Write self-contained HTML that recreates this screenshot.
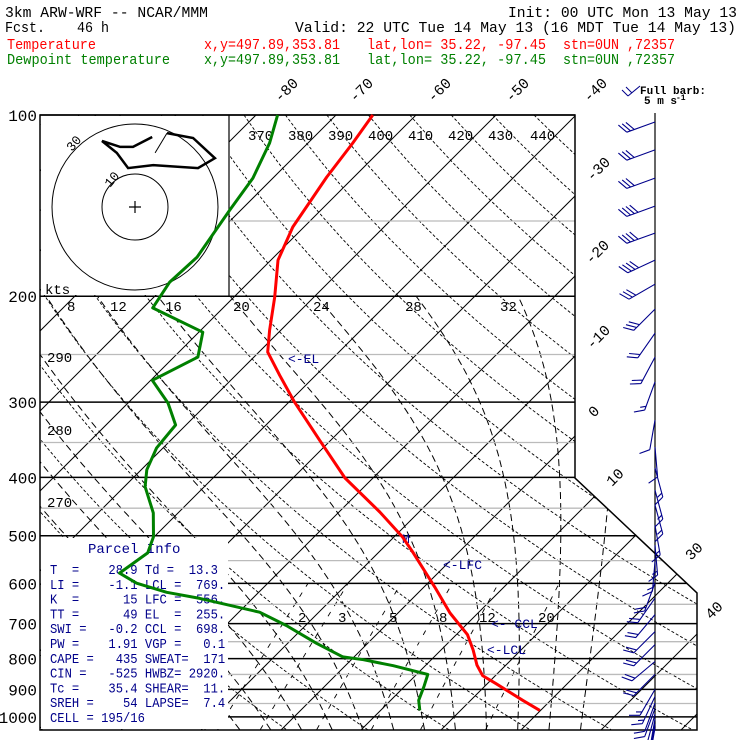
<!DOCTYPE html>
<html><head><meta charset="utf-8"><style>
html,body{margin:0;padding:0;background:#fff;}
svg{display:block;}
text{font-family:"Liberation Mono",monospace;}
</style></head><body>
<svg id="c" width="740" height="740" viewBox="0 0 740 740" xmlns="http://www.w3.org/2000/svg">
<defs><clipPath id="plotclip"><polygon points="40,115 575,115 575,478 697,593 697,730 40,730"/></clipPath></defs>
<rect width="740" height="740" fill="#fff"/>
<g id="grid" clip-path="url(#plotclip)"></g>
<rect x="41" y="116" width="188" height="179" fill="#fff"/>
<rect x="41" y="538" width="187" height="191" fill="#fff"/>
<g id="plines"></g>
<polygon points="40,115 575,115 575,478 697,593 697,730 40,730" fill="none" stroke="#000" stroke-width="1.5"/>
<line x1="229" y1="115" x2="229" y2="296" stroke="#000" stroke-width="1.2"/>
<g id="hodo"></g>
<g id="labels"></g>
<g id="info" fill="#00008b" font-size="13.5"></g>
<g id="profiles"></g>
<g id="barbs"></g>
<g id="header" font-size="15"></g>
</svg>
<script>
const tempP=[100,111.3,126.8,153.5,174.3,200.7,227.8,247.7,270.7,299.9,347.0,400.9,456.6,501.9,533.9,609.2,672.1,730.3,773.9,820.6,853.8,880.8,938.5,975.3];
const tempT=[-65.4,-64.4,-63.4,-61.4,-59.1,-54.9,-51.4,-48.9,-44.5,-39.3,-31.4,-23.5,-14.9,-9.0,-5.6,1.4,6.5,11.4,14.0,16.4,18.4,21.1,26.5,29.9];
const dewP=[100,111.3,127.3,143.8,172.2,189.5,209.2,229.5,252.5,275.9,301.0,327.4,357.6,388.6,414.6,458.3,501.9,533.9,576.9,599.6,620.8,635.5,670,705,754.7,794.9,803.6,822,850,888.8,938.5,975.3];
const dewT=[-77.3,-74.8,-72.5,-71.4,-69.6,-69.9,-68.8,-59.5,-57,-59.8,-55,-51.3,-50.8,-49.3,-47.4,-43.1,-40.1,-38.8,-39.8,-36.4,-31.5,-26.6,-17.4,-12.4,-6.4,-1.4,1.5,6,11.4,12.4,13.5,14.9];
const windP=[102.7,114.3,127.3,141.7,157.1,174.2,191.0,210.1,230.4,252.5,277.6,321.3,356.1,385.9,420.0,444.5,480.5,518.5,552.1,598.8,634.9,676.2,721.5,758.4,809.1,850.0,900.0,924.9,948.6,968.2,988.9,1008,1027,1043];
const windDir=[250,250,250,250,250,245,240,225,215,208,200,190,175,165,165,165,170,175,185,200,215,220,225,225,230,225,210,205,200,200,195,190,190,190];
const windSpd=[17,15,17,20,20,20,17,15,12,10,8,7,5,8,8,8,8,8,8,10,12,12,12,12,10,10,8,8,7,7,6,5,5,5];
const isoTemps=[-120,-110,-100,-90,-80,-70,-60,-50,-40,-30,-20,-10,0,10,20,30,40,50];
const thetas=[240,250,260,270,280,290,300,310,320,330,340,350,360,370,380,390,400,410,420,430,440,450,460,470];
const thetaW=[-8,-4,0,4,8,12,16,20,24,28,32,36];
const mixR=[2,3,5,8,12,20];
const presMajor=[100,200,300,400,500,600,700,800,900,1000];
const presMinor=[150,250,350,450,550,650,750,850,950];
const hodoU=[6.1,9.7,17.6,24.2,19.1,5.5,-2.1,-5.5,-10,-4.5,-0.6,5.2];
const hodoV=[16.4,22.4,20.9,14.8,11.8,12.7,11.8,16.4,20,18.2,18.2,21.2];

const NS="http://www.w3.org/2000/svg";
function yP(p){return 115+261.4*Math.log(p/100);}
function xT(T,p){return 1011+8*T-yP(p);}
function el(tag,attrs,parent){const e=document.createElementNS(NS,tag);for(const k in attrs)e.setAttribute(k,attrs[k]);parent.appendChild(e);return e;}
function pathFrom(pts){return pts.map((q,i)=>(i?'L':'M')+q[0].toFixed(1)+','+q[1].toFixed(1)).join('');}
const grid=document.getElementById('grid');
// isotherms
isoTemps.forEach(T=>{
  const l=el('line',{x1:xT(T,1050),y1:yP(1050),x2:xT(T,100),y2:yP(100),stroke:'#000','stroke-width':1},grid);
  
  
});
// dry adiabats
thetas.forEach(th=>{
  const pts=[];for(let p=100;p<=1050;p+=10){pts.push([xT(th*Math.pow(p/1000,0.2857)-273.15,p),yP(p)]);}
  const e=el('path',{d:pathFrom(pts),fill:'none',stroke:'#000','stroke-width':0.9,'stroke-dasharray':'3,2'},grid);
  
  
});
function es(T){return 6.112*Math.exp(17.67*T/(T+243.5));}
function moistStep(T,p,dp){const Tk=T+273.15;const rs=0.622*es(T)/(p-es(T));const Lv=2.5e6,Rd=287,cp=1005;
  const g=(Rd*Tk+Lv*rs)/(cp+Lv*Lv*rs*0.622/(Rd*Tk*Tk))/p;return T+g*dp;}
thetaW.forEach(tw=>{
  const pts=[];let T=tw;
  let Td=tw;for(let p=1000;p<1050;p+=5){Td=moistStep(Td,p,5);}
  const up=[];for(let p=1000;p>=200;p-=5){up.push([xT(T,p),yP(p)]);T=moistStep(T,p,-5);}
  const e=el('path',{d:pathFrom([[xT(Td,1050),yP(1050)]].concat(up)),fill:'none',stroke:'#000','stroke-width':1,'stroke-dasharray':'7,4'},grid);
  
  
});
mixR.forEach(w=>{
  const pts=[];for(let p=1050;p>=600;p-=10){const e=w*p/(622+w);const l=Math.log(e/6.112);const Td=243.5*l/(17.67-l);pts.push([xT(Td,p),yP(p)]);}
  const e=el('path',{d:pathFrom(pts),fill:'none',stroke:'#000','stroke-width':0.9,'stroke-dasharray':'5,7'},grid);
  
  
});
// pressure lines
const pl=document.getElementById('plines');
function rightEdge(y){return y<=478?575:Math.min(697,575+(y-478)*122/115);}
presMinor.forEach(p=>{const y=yP(p);const x0=(y>=538)?228:(y<=296?229:40);
  const e=el('line',{x1:x0,y1:y,x2:rightEdge(y),y2:y,stroke:'#bbb','stroke-width':1.3},pl);
  
  });
presMajor.forEach(p=>{const y=yP(p);const x0=(y>540)?228:40;
  const e=el('line',{x1:x0,y1:y,x2:rightEdge(y),y2:y,stroke:'#000','stroke-width':1.5},pl);
  
  
  const t=el('text',{x:37,y:y+6,'text-anchor':'end','font-size':16,'font-family':'Liberation Sans, sans-serif'},pl);
  t.textContent=p;
  
  
});
// hodograph
const hd=document.getElementById('hodo');const hc=[135,207],hs=3.3;
[10,30].forEach((r,i)=>{const c=el('circle',{cx:hc[0],cy:hc[1],r:r==10?33:83,fill:'none',stroke:'#000','stroke-width':1},hd);
  
  });
el('path',{d:'M129,207H141M135,201V213',stroke:'#000','stroke-width':1.2},hd);
const hpts=hodoU.map((u,i)=>[hc[0]+u*hs,hc[1]-hodoV[i]*hs]);
const h1=el('path',{d:pathFrom(hpts.slice(0,2)),fill:'none',stroke:'#000','stroke-width':1},hd);
const h2=el('path',{d:pathFrom(hpts.slice(1)),fill:'none',stroke:'#000','stroke-width':2.5},hd);


function txt(s,x,y,parent,opts){const t=el('text',Object.assign({x:x,y:y},opts||{}),parent);t.textContent=s;return t;}
const lab=document.getElementById('labels');
txt('10',110,188,hd,{'font-size':13,transform:'rotate(-50 110 188)'});
txt('30',72,152,hd,{'font-size':13,transform:'rotate(-50 72 152)'});
txt('kts',45,294,lab,{'font-size':14});
// isotherm labels
const isoLab=[['-80',280,103],['-70',355,103],['-60',433,103],['-50',511,103],['-40',589,103],['-30',592,182],['-20',591,265],['-10',592,350],['0',594,418],['10',612,487],['30',691,561],['40',711,620]];
isoLab.forEach(a=>{const t=txt(a[0],a[1],a[2],lab,{'font-size':15,transform:'rotate(-45 '+a[1]+' '+a[2]+')'});
  
  });
const thLab=[['370',248,140],['380',288,140],['390',328,140],['400',368,140],['410',408,140],['420',448,140],['430',488,140],['440',530,140],['290',47,362],['280',47,435],['270',47,507]];
thLab.forEach(a=>{const t=txt(a[0],a[1],a[2],lab,{'font-size':14});
  
  });
const mwLab=[['8',67,311],['12',110,311],['16',165,311],['20',233,311],['24',313,311],['28',405,311],['32',500,311]];
mwLab.forEach(a=>{const t=txt(a[0],a[1],a[2],lab,{'font-size':14});
  
  });
const mrLab=[['2',298,622],['3',338,622],['5',389,622],['8',439,622],['12',479,622],['20',538,622]];
mrLab.forEach(a=>{const t=txt(a[0],a[1],a[2],lab,{'font-size':14});
  
  });
const lv=[['<-EL',288,363],['<-LFC',443,569],['<- CCL',491,628],['<-LCL',487,654],['M',402,543]];
lv.forEach(a=>{const t=txt(a[0],a[1],a[2],lab,{'font-size':13,fill:'#00008b'});
  
  });
// info box
const info=document.getElementById('info');
txt('Parcel Info',88,553,info,{'font-size':14});
const rows=['T  =    28.9 Td =  13.3','LI =    -1.1 LCL =  769.','K  =      15 LFC =  556.','TT =      49 EL  =  255.','SWI =   -0.2 CCL =  698.','PW =    1.91 VGP =   0.1','CAPE =   435 SWEAT=  171','CIN =   -525 HWBZ= 2920.','Tc =    35.4 SHEAR=  11.','SREH =    54 LAPSE=  7.4','CELL = 195/16'];
rows.forEach((r,i)=>{const t=el('text',{x:50,y:574+i*14.8,'xml:space':'preserve',textLength:(r.length*7.3).toFixed(1),lengthAdjust:'spacingAndGlyphs'},info);t.textContent=r;t.setAttribute('style','white-space:pre');
  
  });
// profiles
const pr=document.getElementById('profiles');
const tp=el('path',{d:pathFrom(tempP.map((p,i)=>[xT(tempT[i],p),yP(p)])),fill:'none',stroke:'#ff0000','stroke-width':3,'stroke-linejoin':'round'},pr);


const dp=el('path',{d:pathFrom(dewP.map((p,i)=>[xT(dewT[i],p),yP(p)])),fill:'none',stroke:'#008000','stroke-width':3,'stroke-linejoin':'round'},pr);


// barbs
const bb=document.getElementById('barbs');
el('line',{x1:655,y1:113,x2:655,y2:730,stroke:'#000','stroke-width':1.2},bb);
const bc='#00008b';
windP.forEach((p,i)=>{
  const y=yP(p),x=655;const a=windDir[i]*Math.PI/180;const dx=Math.sin(a),dy=-Math.cos(a);
  const L=30;const tx=x+dx*L,ty=y+dy*L;
  const r=60*Math.PI/180;const fx=dx*Math.cos(r)-dy*Math.sin(r),fy=dx*Math.sin(r)+dy*Math.cos(r);
  let d='M'+x+','+y.toFixed(1)+'L'+tx.toFixed(1)+','+ty.toFixed(1);
  let s=windSpd[i];let k=0;
  while(s>=5){const bx=tx-dx*k*4,by=ty-dy*k*4;d+='M'+bx.toFixed(1)+','+by.toFixed(1)+'l'+(fx*11).toFixed(1)+','+(fy*11).toFixed(1);s-=5;k++;}
  if(s>=2.5){const bx=tx-dx*k*4,by=ty-dy*k*4;d+='M'+bx.toFixed(1)+','+by.toFixed(1)+'l'+(fx*6).toFixed(1)+','+(fy*6).toFixed(1);}
  const e=el('path',{d:d,fill:'none',stroke:bc,'stroke-width':1.1},bb);
  
  
});
el('path',{d:'M628,96L640,86M628,96l-6,-6M632,93l-6,-6',fill:'none',stroke:bc,'stroke-width':1},bb);
txt('Full barb:',640,94,bb,{'font-size':11,'font-weight':'bold','font-family':'Liberation Serif, serif'});
txt('5 m s',644,104,bb,{'font-size':11,'font-weight':'bold','font-family':'Liberation Serif, serif'});
txt('-1',676,100,bb,{'font-size':8,'font-weight':'bold','font-family':'Liberation Serif, serif'});
// header
const hdr=document.getElementById('header');
const H=[['3km ARW-WRF -- NCAR/MMM',5,17,203,'#000'],['Init: 00 UTC Mon 13 May 13',508,17,229,'#000'],['Fcst.    46 h',5,32,104,'#000'],['Valid: 22 UTC Tue 14 May 13 (16 MDT Tue 14 May 13)',295,32,441,'#000'],
['Temperature',7,49,89,'#ff0000'],['x,y=497.89,353.81',204,49,136,'#ff0000'],['lat,lon= 35.22, -97.45',367,49,179,'#ff0000'],['stn=0UN ,72357',563,49,112,'#ff0000'],
['Dewpoint temperature',7,64,163,'#008000'],['x,y=497.89,353.81',204,64,136,'#008000'],['lat,lon= 35.22, -97.45',367,64,179,'#008000'],['stn=0UN ,72357',563,64,112,'#008000']];
H.forEach(h=>{const t=el('text',{x:h[1],y:h[2],fill:h[4],textLength:h[3],lengthAdjust:'spacingAndGlyphs'},hdr);t.textContent=h[0];t.setAttribute('style','white-space:pre');
  
  });
</script>
</body></html>
